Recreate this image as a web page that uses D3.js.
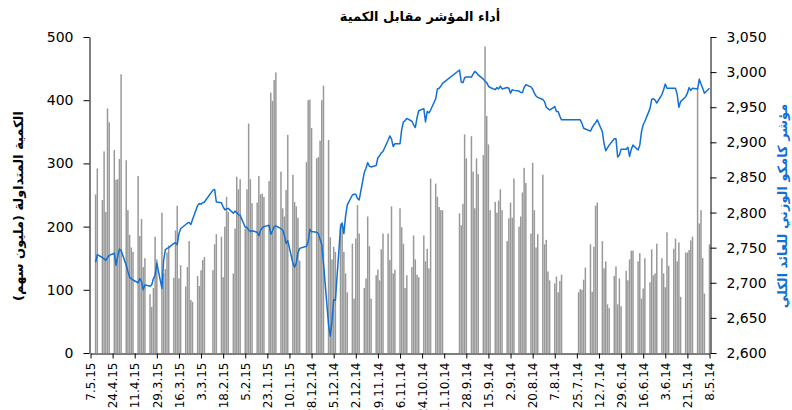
<!DOCTYPE html>
<html>
<head>
<meta charset="utf-8">
<script src="https://cdn.jsdelivr.net/npm/d3@7"></script>
<style>
  body { margin: 0; background: #fff; }
  svg { display: block; font-family: "DejaVu Sans", sans-serif; }
</style>
</head>
<body>
<script>
// trading days run Sun-Thu; the exchange was shut on these days
const firstDay = "2014-05-08";
const lastDay = "2015-05-04";
const holidays = [
  "2014-07-27", "2014-07-28", "2014-07-29", "2014-07-30", "2014-07-31",
  "2014-10-05", "2014-10-06", "2014-10-07", "2014-10-08", "2014-10-09",
  "2015-01-01", "2015-02-25", "2015-02-26"
];

// traded volume, million shares (one row per week)
const volume = [
  172,
  94, 150, 226, 205, 420,
  184, 178, 163, 159, 159,
  89, 175, 145, 181, 165,
  138, 191, 104, 126, 150,
  173, 126, 123, 164, 112,
  150, 102, 86, 158, 145,
  162, 162, 148, 115, 130,
  74, 118, 77, 137, 122,
  71, 77, 145, 134, 177,
  238, 233, 168, 97, 172,
  135, 116, 100, 101, 96,
  124, 114, 96, 121, 110,
  115, 129, 179, 172, 282,
  188, 167, 226, 301, 189,
  269, 293, 254, 216, 200,
  276, 214, 238, 213, 177,
  226, 259, 241, 222, 239,
  226, 330, 375, 485, 313,
  283, 308, 229, 287, 343,
  308, 346, 236, 202, 221,
  226, 226, 231, 247, 268,
  276, 134, 165, 145, 186,
  120, 124, 148, 186, 136,
  123, 103, 173, 199, 229,
  132, 126, 232, 147, 189,
  189, 164, 115, 132, 123,
  86, 169, 216, 118, 103,
  189, 234, 181, 86, 173,
  96, 126, 160, 205, 205,
  160, 168, 148, 183, 337,
  423, 400, 336, 310, 308,
  356, 401, 400, 302,
  146, 214, 232, 239, 282,
  345, 258, 216, 229, 287,
  444, 432, 399, 412, 272,
  247, 252, 251, 280, 238,
  237, 275, 363, 259, 197,
  275, 259, 279, 197, 126,
  223, 247, 200, 120, 184,
  188, 172, 131,
  152, 147, 131, 106, 122,
  81, 84, 177, 136, 105,
  139, 118, 233, 194, 119,
  170, 159, 133, 126, 222,
  148, 184, 103, 73, 93,
  150, 136, 212, 185, 280,
  160, 167, 187, 226, 305,
  441, 307, 275, 274, 321,
  365, 387, 223, 319, 242,
  292, 251
];

// KAMCO TRW index close
const indexClose = [
  2977,
  2970, 2977, 2983, 2990, 2976,
  2977, 2974, 2978, 2970, 2965,
  2958, 2950, 2968, 2977, 2977,
  2977, 2977, 2983, 2975, 2968,
  2956, 2960, 2962, 2961, 2948,
  2930, 2925, 2915, 2896, 2889,
  2896, 2890, 2880, 2893, 2890,
  2890, 2882, 2879, 2905, 2905,
  2896, 2892, 2888, 2898, 2915,
  2932, 2928, 2925, 2921, 2916,
  2919, 2920, 2927, 2932, 2932,
  2932, 2937, 2944, 2944, 2951,
  2946, 2948, 2950, 2958, 2961,
  2964, 2966, 2970, 2976, 2979,
  2982, 2978, 2971, 2971, 2973,
  2974, 2975, 2970, 2977, 2978,
  2976, 2980, 2976, 2978, 2975,
  2978, 2980, 2985, 2987, 2990,
  2996, 2999, 3001, 2997, 2993,
  2993, 2992, 2985, 2986, 3003,
  2984, 2980, 2977, 2976, 2962,
  2946, 2942, 2944, 2929, 2948,
  2945, 2935, 2921, 2925, 2930,
  2934, 2931, 2929, 2918, 2898,
  2898, 2894, 2905, 2909, 2903,
  2887, 2885, 2881, 2878, 2867,
  2865, 2866, 2871, 2863, 2857,
  2818, 2820, 2826, 2826, 2825,
  2811, 2795, 2770, 2785, 2778,
  2675, 2676, 2645, 2624, 2640,
  2728, 2755, 2762, 2770, 2772,
  2773, 2776, 2758, 2752,
  2749, 2743, 2728, 2722, 2728,
  2760, 2756, 2768, 2775, 2777,
  2781, 2780, 2774, 2769, 2782,
  2780, 2778, 2775, 2767, 2772,
  2774, 2773, 2775, 2779, 2779,
  2796, 2797, 2800, 2802, 2799,
  2806, 2805, 2804, 2808, 2814,
  2815, 2833, 2832,
  2815, 2814, 2812, 2813, 2810,
  2790, 2783, 2786, 2785, 2783,
  2777, 2770, 2754, 2757, 2756,
  2750, 2749, 2747, 2732, 2692,
  2728, 2711, 2706, 2697, 2695,
  2697, 2690, 2702, 2706, 2700,
  2704, 2706, 2708, 2716, 2725,
  2746, 2748, 2738, 2725, 2742,
  2739, 2736, 2732, 2734, 2736,
  2740, 2729
];

const volumeTicks = [0, 100, 200, 300, 400, 500];
const indexTicks = [2600, 2650, 2700, 2750, 2800, 2850, 2900, 2950, 3000, 3050];
const axisStart = "2014-05-08";
const axisEnd = "2015-05-07";
const tickStepDays = 13;

const title = "أداء المؤشر مقابل الكمية";
const leftTitle = "الكمية المتداولة (مليون سهم)";
const rightTitle = "مؤشر كامكو الوزني للعائد الكلي";

const width = 792, height = 410;
const font = "DejaVu Sans, sans-serif";
const parse = d3.utcParse("%Y-%m-%d");
const fmt = d3.utcFormat("%-d.%-m.%y");

const main = () => {
  const off = new Set(holidays);
  const days = d3.utcDay.range(parse(firstDay), d3.utcDay.offset(parse(lastDay), 1))
    .filter((d) => d.getUTCDay() <= 4 && !off.has(d3.utcFormat("%Y-%m-%d")(d)));
  if (days.length !== volume.length) console.warn("day count", days.length, volume.length);

  const rows = days.map((date, i) => ({ date, vol: volume[i], idx: indexClose[i] }));

  const x = d3.scaleUtc().domain([parse(axisStart), parse(axisEnd)]).range([709.5, 90.5]);
  const yL = d3.scaleLinear().domain([0, 500]).range([353, 37]);
  const yR = d3.scaleLinear().domain([2600, 3050]).range([353, 37]);

  const svg = d3.select("body").append("svg")
    .attr("width", width).attr("height", height);

  // bars
  svg.append("g")
    .attr("fill", "#999")
    .selectAll("rect")
    .data(rows)
    .join("rect")
    .attr("x", (d) => x(d.date) - 0.75)
    .attr("width", 1.5)
    .attr("y", (d) => yL(d.vol))
    .attr("height", (d) => yL(0) - yL(d.vol));

  // index line
  svg.append("path")
    .datum(rows)
    .attr("fill", "none")
    .attr("stroke", "#1170d4")
    .attr("stroke-width", 1.5)
    .attr("stroke-linejoin", "round")
    .attr("d", d3.line().x((d) => x(d.date)).y((d) => yR(d.idx)));

  // axes
  svg.append("g")
    .attr("transform", "translate(89.5,0)")
    .call(d3.axisLeft(yL).tickValues(volumeTicks).tickSize(6).tickSizeOuter(0).tickPadding(10))
    .attr("font-family", font)
    .attr("font-size", 14);

  svg.append("g")
    .attr("transform", "translate(710.5,0)")
    .call(d3.axisRight(yR).tickValues(indexTicks).tickSize(6).tickSizeOuter(0).tickPadding(10)
      .tickFormat(d3.format(",")))
    .attr("font-family", font)
    .attr("font-size", 14);

  const ticks = d3.range(0, 365, tickStepDays).map((i) => d3.utcDay.offset(parse(axisStart), i));
  const bottom = svg.append("g")
    .attr("transform", "translate(0,353.5)")
    .call(d3.axisBottom(x).tickValues(ticks).tickFormat(fmt).tickSize(5).tickSizeOuter(0))
    .attr("font-family", font)
    .attr("font-size", 12);
  bottom.selectAll("text")
    .attr("transform", "rotate(-90)")
    .attr("text-anchor", "end")
    .attr("x", -9)
    .attr("y", 0)
    .attr("dy", "0.35em");

  svg.selectAll(".domain, .tick line").attr("stroke", "#000");
  svg.selectAll(".tick text").attr("fill", "#000");

  // titles
  svg.append("text")
    .attr("x", 420).attr("y", 21)
    .attr("text-anchor", "middle")
    .attr("font-size", 13).attr("font-weight", "bold")
    .text(title);

  svg.append("text")
    .attr("transform", "translate(18,206) rotate(-90)")
    .attr("text-anchor", "middle")
    .attr("dy", "0.35em")
    .attr("font-size", 13).attr("font-weight", "bold")
    .text(leftTitle);

  svg.append("text")
    .attr("transform", "translate(782,206) rotate(-90)")
    .attr("text-anchor", "middle")
    .attr("dy", "0.35em")
    .attr("font-size", 13).attr("font-weight", "bold")
    .attr("fill", "#1170d4")
    .text(rightTitle);
};

document.addEventListener("DOMContentLoaded", main);
</script>
</body>
</html>
